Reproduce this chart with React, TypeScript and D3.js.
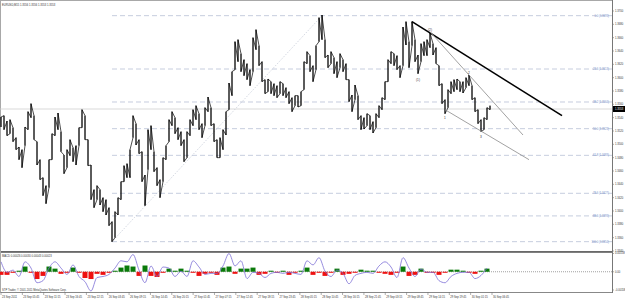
import React, { useEffect, useRef } from 'react'
import * as d3 from 'd3'

// chart header texts
const title = 'EURUSD,M15  1.3556 1.3556 1.3553 1.3553'
const macdTitle = 'MACD 0.00026 0.00030 0.00043 0.00023'
const copyright = 'STP Trader, \u00a9 2001-2011 MetaQuotes Software Corp.'

// M15 bars (high / low)
const highs = [
    1.3541, 1.3543, 1.3535, 1.3537, 1.3525, 1.3510, 1.3496, 1.3492, 1.3526, 1.3549,
    1.3561, 1.3543, 1.3504, 1.3477, 1.3450, 1.3438, 1.3477, 1.3516, 1.3541, 1.3547,
    1.3519, 1.3484, 1.3492, 1.3507, 1.3495, 1.3498, 1.3525, 1.3552, 1.3543, 1.3507,
    1.3469, 1.3432, 1.3438, 1.3432, 1.3420, 1.3417, 1.3405, 1.3384, 1.3399, 1.3420,
    1.3444, 1.3468, 1.3471, 1.3492, 1.3543, 1.3531, 1.3507, 1.3489, 1.3454, 1.3522,
    1.3528, 1.3489, 1.3465, 1.3447, 1.3480, 1.3498, 1.3537, 1.3549, 1.3540, 1.3525,
    1.3519, 1.3507, 1.3519, 1.3537, 1.3552, 1.3558, 1.3546, 1.3531, 1.3555, 1.3571,
    1.3555, 1.3531, 1.3507, 1.3510, 1.3522, 1.3549, 1.3592, 1.3609, 1.3654, 1.3657,
    1.3636, 1.3627, 1.3621, 1.3612, 1.3660, 1.3672, 1.3648, 1.3624, 1.3597, 1.3598,
    1.3594, 1.3591, 1.3588, 1.3594, 1.3591, 1.3585, 1.3579, 1.3570, 1.3573, 1.3573,
    1.3579, 1.3624, 1.3639, 1.3633, 1.3618, 1.3648, 1.3690, 1.3694, 1.3657, 1.3634,
    1.3639, 1.3630, 1.3624, 1.3636, 1.3627, 1.3621, 1.3597, 1.3574, 1.3589, 1.3573,
    1.3543, 1.3540, 1.3546, 1.3543, 1.3534, 1.3546, 1.3558, 1.3570, 1.3594, 1.3627,
    1.3639, 1.3636, 1.3633, 1.3618, 1.3676, 1.3684, 1.3654, 1.3684, 1.3657, 1.3634,
    1.3651, 1.3654, 1.3657, 1.3667, 1.3651, 1.3645, 1.3618, 1.3591, 1.3567, 1.3582,
    1.3594, 1.3597, 1.3598, 1.3594, 1.3594, 1.3600, 1.3604, 1.3588, 1.3570, 1.3552,
    1.3537, 1.3540, 1.3555, 1.3558
]
const lows = [
    1.3526, 1.3522, 1.3513, 1.3516, 1.3504, 1.3492, 1.3477, 1.3465, 1.3498, 1.3522,
    1.3540, 1.3507, 1.3469, 1.3447, 1.3423, 1.3411, 1.3435, 1.3477, 1.3513, 1.3522,
    1.3489, 1.3456, 1.3465, 1.3483, 1.3474, 1.3469, 1.3498, 1.3525, 1.3507, 1.3468,
    1.3417, 1.3405, 1.3417, 1.3409, 1.3399, 1.3394, 1.3378, 1.3354, 1.3360, 1.3394,
    1.3417, 1.3444, 1.3450, 1.3450, 1.3510, 1.3499, 1.3486, 1.3444, 1.3408, 1.3462,
    1.3492, 1.3459, 1.3438, 1.3420, 1.3444, 1.3477, 1.3504, 1.3528, 1.3516, 1.3507,
    1.3498, 1.3474, 1.3480, 1.3513, 1.3528, 1.3537, 1.3522, 1.3510, 1.3528, 1.3549,
    1.3528, 1.3504, 1.3480, 1.3480, 1.3492, 1.3514, 1.3552, 1.3573, 1.3612, 1.3624,
    1.3609, 1.3603, 1.3597, 1.3588, 1.3609, 1.3642, 1.3618, 1.3594, 1.3576, 1.3579,
    1.3576, 1.3573, 1.3570, 1.3576, 1.3573, 1.3570, 1.3561, 1.3549, 1.3558, 1.3556,
    1.3558, 1.3582, 1.3621, 1.3609, 1.3594, 1.3612, 1.3654, 1.3657, 1.3630, 1.3615,
    1.3621, 1.3606, 1.3600, 1.3615, 1.3609, 1.3597, 1.3564, 1.3549, 1.3567, 1.3537,
    1.3522, 1.3523, 1.3528, 1.3522, 1.3517, 1.3525, 1.3540, 1.3552, 1.3567, 1.3594,
    1.3621, 1.3618, 1.3612, 1.3600, 1.3618, 1.3649, 1.3615, 1.3648, 1.3624, 1.3606,
    1.3624, 1.3633, 1.3633, 1.3645, 1.3634, 1.3621, 1.3588, 1.3561, 1.3546, 1.3555,
    1.3576, 1.3579, 1.3582, 1.3579, 1.3577, 1.3585, 1.3588, 1.3567, 1.3549, 1.3531,
    1.3519, 1.3522, 1.3537, 1.3552
]
const lastPrice = 1.3553

const timeLabels = [
    '23 Sep 2011', '23 Sep 05:45', '23 Sep 11:15', '23 Sep 16:45', '23 Sep 22:15', '26 Sep 03:45',
    '26 Sep 09:15', '26 Sep 14:45', '26 Sep 20:15', '27 Sep 01:45', '27 Sep 07:15', '27 Sep 12:45',
    '27 Sep 18:15', '27 Sep 23:45', '28 Sep 05:15', '28 Sep 10:45', '28 Sep 16:15', '28 Sep 21:45',
    '29 Sep 03:15', '29 Sep 08:45', '29 Sep 14:15', '29 Sep 19:45', '30 Sep 01:15', '30 Sep 06:45'
]
const priceTicks = [
    1.3700, 1.3680, 1.3660, 1.3640, 1.3620, 1.3600, 1.3580, 1.3560, 1.3540, 1.3520,
    1.3500, 1.3480, 1.3460, 1.3440, 1.3420, 1.3400, 1.3380, 1.3360, 1.3340
]

// fibonacci retracement
const fibLevels = [0, 23.6, 38.2, 50, 61.8, 78.6, 88.6, 100]
const fibBars = [37, 107]
const fibPrices = [1.3354, 1.3693]

// trend lines (bar index, price)
const thickBars = [137, 187]
const thickPrices = [1.3684, 1.3543]
const upperBars = [143, 174]
const upperPrices = [1.3669, 1.3514]
const lowerBars = [148, 176]
const lowerPrices = [1.3552, 1.3477]

// wave labels
const waveNames = ['(1)', '(2)', '1', '2', '3']
const waveBars = [139, 143, 148, 156, 160]
const wavePrices = [1.3596, 1.3672, 1.3540, 1.3607, 1.3511]

// MACD, one value every two bars
const macdHist = [
    -0.00027, -0.00027, -0.00009, 0.00009, 0.00045, -0.00009, -0.00063, -0.00036, 0.00045, 0.00027,
    -0.00018, -0.00009, 0.00036, -0.00009, -0.00054, -0.00063, -0.00018, -0.00027, -0.00009, 0.00009,
    0.00036, 0.00054, 0.00045, -0.00036, 0.00054, -0.00036, -0.00045, -0.00009, 0.00027, 0.00009,
    0.00027, 0.00009, -0.00009, -0.00036, -0.00018, -0.00009, -0.00027, 0.00036, 0.00045, -0.00018,
    0.00027, 0.00027, 0.00036, -0.00027, -0.00018, 0.00009, -0.00009, 0.00009, -0.00027, -0.00009,
    0.00009, 0.00036, -0.00027, -0.00009, -0.00036, -0.00009, 0.00027, -0.00027, -0.00018, -0.00009,
    0.00018, 0.00009, 0.00009, -0.00009, -0.00018, -0.00027, -0.00009, 0.00045, -0.00036, -0.00027,
    0.00027, -0.00009, -0.00009, -0.00027, -0.00009, 0.00018, 0.00018, 0.00009, -0.00009, -0.00018,
    0.00009, 0.00027
]
const macdLine = [
    0.00086, -0.00005, 0.00014, -0.00041, 0.00086, 0.00032, -0.00095, -0.00077, 0.00032, 0.00086,
    0.00032, -0.00023, 0.00059, -0.00041, -0.00086, -0.00167, -0.00050, -0.00041, -0.00023, 0.00032,
    0.00095, 0.00086, 0.00149, 0.00014, -0.00095, 0.00050, -0.00041, 0.00041, 0.00032, -0.00041,
    0.00005, -0.00041, 0.00095, 0.00041, -0.00023, -0.00014, -0.00014, 0.00050, 0.00158, 0.00050,
    0.00095, -0.00059, -0.00005, -0.00014, -0.00050, -0.00014, -0.00005, -0.00014, -0.00005, -0.00014,
    -0.00023, 0.00095, 0.00059, 0.00122, 0.00005, -0.00041, 0.00014, -0.00014, -0.00104, -0.00032,
    -0.00014, -0.00005, -0.00014, 0.00050, 0.00086, 0.00041, -0.00050, 0.00122, 0.00032, -0.00041,
    0.00023, -0.00005, -0.00005, -0.00077, -0.00095, -0.00041, -0.00014, -0.00005, -0.00005, -0.00059,
    -0.00032, 0.00032
]
const macdTicks = [0.00158, 0, -0.00158]

function App() {
    const svgRef = useRef()

    useEffect(() => {
        const width = 625
        const height = 300
        const right = 612
        const mainTop = 1
        const mainBottom = 251
        const macdBottom = 292
        const font = 'Liberation Sans, Arial, sans-serif'
        const fs = 2.7

        const svg = d3.select(svgRef.current)
        svg.selectAll('*').remove()
        svg.attr('width', width).attr('height', height)
            .style('position', 'absolute').style('left', 0).style('top', 0)
            .style('background', '#fff')

        const x = d3.scaleLinear().domain([0, highs.length - 1]).range([1, 490])
        const y = d3.scaleLinear().domain([1.3340, 1.3700]).range([251, 11])
        const xt = d3.scaleLinear().domain([0, timeLabels.length - 1]).range([1, 492])
        const ym = d3.scaleLinear().domain([-0.00158, 0.00158]).range([290, 253.5])
        const xm = j => x(j * 2)

        svg.append('defs').append('clipPath').attr('id', 'mainclip')
            .append('rect').attr('x', 0).attr('y', mainTop).attr('width', right).attr('height', mainBottom - mainTop)

        // frames
        svg.append('rect').attr('x', 0.5).attr('y', 0.5).attr('width', right).attr('height', mainBottom)
            .attr('fill', 'none').attr('stroke', '#a8a8a8')
        svg.append('line').attr('x1', 0).attr('x2', right).attr('y1', 252).attr('y2', 252)
            .attr('stroke', '#555').attr('stroke-width', 1.5)
        svg.append('line').attr('x1', 0).attr('x2', right).attr('y1', macdBottom + 0.5).attr('y2', macdBottom + 0.5)
            .attr('stroke', '#888')
        svg.append('line').attr('x1', right + 0.5).attr('x2', right + 0.5).attr('y1', 0).attr('y2', macdBottom + 1)
            .attr('stroke', '#777')
        svg.append('line').attr('x1', 0.5).attr('x2', 0.5).attr('y1', 0).attr('y2', macdBottom + 1)
            .attr('stroke', '#a8a8a8')

        const main = svg.append('g').attr('clip-path', 'url(#mainclip)')

        // current price line
        main.append('line').attr('x1', 0).attr('x2', right).attr('y1', y(lastPrice)).attr('y2', y(lastPrice))
            .attr('stroke', '#cfcfcf').attr('stroke-width', 0.8)

        // fibonacci
        const fibRange = fibPrices[1] - fibPrices[0]
        const fibG = main.append('g')
        fibLevels.forEach(lv => {
            const p = fibPrices[1] - fibRange * lv / 100
            fibG.append('line').attr('x1', x(fibBars[0])).attr('x2', right)
                .attr('y1', y(p)).attr('y2', y(p))
                .attr('stroke', '#b7c0d6').attr('stroke-width', 0.8).attr('stroke-dasharray', '5,3')
            fibG.append('text').attr('x', 609).attr('y', y(p)).attr('dy', '0.35em')
                .attr('text-anchor', 'end').attr('font-family', font).attr('font-size', fs)
                .attr('fill', '#6f8cc8')
                .text(`${lv.toFixed(1)} (${p.toFixed(4)})`)
        })
        main.append('line')
            .attr('x1', x(fibBars[0])).attr('y1', y(fibPrices[0]))
            .attr('x2', x(fibBars[1])).attr('y2', y(fibPrices[1]))
            .attr('stroke', '#b0b8c8').attr('stroke-width', 0.7).attr('stroke-dasharray', '1,1.5')

        // bars: each bar walked top-to-bottom or bottom-to-top so neighbours join up
        const pts = []
        highs.forEach((h, i) => {
            const mid = (h + lows[i]) / 2
            const prevMid = i > 0 ? (highs[i - 1] + lows[i - 1]) / 2 : mid
            const down = mid < prevMid
            pts.push([x(i), y(down ? h : lows[i])])
            pts.push([x(i), y(down ? lows[i] : h)])
        })
        main.append('path')
            .attr('d', d3.line()(pts))
            .attr('fill', 'none').attr('stroke', '#000').attr('stroke-width', 0.7)
        main.selectAll('.bar')
            .data(highs)
            .join('line')
            .attr('class', 'bar')
            .attr('x1', (d, i) => x(i)).attr('x2', (d, i) => x(i))
            .attr('y1', d => y(d)).attr('y2', (d, i) => y(lows[i]))
            .attr('stroke', '#000').attr('stroke-width', 0.9)

        // trend lines
        const trend = (bars, prices, color, w) => main.append('line')
            .attr('x1', x(bars[0])).attr('y1', y(prices[0]))
            .attr('x2', x(bars[1])).attr('y2', y(prices[1]))
            .attr('stroke', color).attr('stroke-width', w)
        trend(thickBars, thickPrices, '#000', 1.6)
        trend(upperBars, upperPrices, '#8a8a8a', 0.8)
        trend(lowerBars, lowerPrices, '#8a8a8a', 0.8)

        main.selectAll('.wave')
            .data(waveNames)
            .join('text')
            .attr('class', 'wave')
            .attr('x', (d, i) => x(waveBars[i])).attr('y', (d, i) => y(wavePrices[i]))
            .attr('dy', '0.35em').attr('text-anchor', 'middle')
            .attr('font-family', font).attr('font-size', 3.2).attr('fill', '#333')
            .text(d => d)

        svg.append('text').attr('x', 2).attr('y', 5.5)
            .attr('font-family', font).attr('font-size', fs).attr('fill', '#333').text(title)

        // MACD window
        svg.append('line').attr('x1', 1).attr('x2', right).attr('y1', ym(0)).attr('y2', ym(0))
            .attr('stroke', '#777').attr('stroke-width', 0.7).attr('stroke-dasharray', '1,1')
        svg.selectAll('.hist')
            .data(macdHist)
            .join('rect')
            .attr('class', 'hist')
            .attr('x', (d, j) => xm(j) - 2.5)
            .attr('width', 5)
            .attr('y', d => Math.min(ym(d), ym(0)))
            .attr('height', d => Math.abs(ym(d) - ym(0)))
            .attr('fill', d => d >= 0 ? '#0a7a0a' : '#ee1111')
        svg.append('path')
            .attr('d', d3.line().x((d, j) => xm(j)).y(d => ym(d)).curve(d3.curveMonotoneX)(macdLine))
            .attr('fill', 'none').attr('stroke', '#7c6fd6').attr('stroke-width', 0.8)

        svg.append('text').attr('x', 2).attr('y', 257)
            .attr('font-family', font).attr('font-size', fs).attr('fill', '#333').text(macdTitle)
        svg.append('text').attr('x', 2).attr('y', 291)
            .attr('font-family', font).attr('font-size', fs).attr('fill', '#333').text(copyright)

        // price axis
        const axisG = svg.append('g')
        priceTicks.forEach(t => {
            axisG.append('line').attr('x1', right).attr('x2', right + 2).attr('y1', y(t)).attr('y2', y(t))
                .attr('stroke', '#777').attr('stroke-width', 0.6)
            axisG.append('text').attr('x', right + 3).attr('y', y(t)).attr('dy', '0.35em')
                .attr('font-family', font).attr('font-size', fs).attr('fill', '#333').text(t.toFixed(4))
        })
        axisG.append('rect').attr('x', right + 1).attr('y', y(lastPrice) - 3).attr('width', 12).attr('height', 6)
            .attr('fill', '#000')
        axisG.append('text').attr('x', right + 3).attr('y', y(lastPrice)).attr('dy', '0.35em')
            .attr('font-family', font).attr('font-size', fs).attr('fill', '#fff').text(lastPrice.toFixed(4))

        macdTicks.forEach(t => {
            axisG.append('line').attr('x1', right).attr('x2', right + 2).attr('y1', ym(t)).attr('y2', ym(t))
                .attr('stroke', '#777').attr('stroke-width', 0.6)
            axisG.append('text').attr('x', right + 3).attr('y', ym(t)).attr('dy', '0.35em')
                .attr('font-family', font).attr('font-size', fs).attr('fill', '#333')
                .text(t === 0 ? '0.00' : t.toFixed(5))
        })

        // time axis
        timeLabels.forEach((s, k) => {
            axisG.append('line').attr('x1', xt(k)).attr('x2', xt(k)).attr('y1', macdBottom).attr('y2', macdBottom + 3)
                .attr('stroke', '#777').attr('stroke-width', 0.6)
            axisG.append('text').attr('x', xt(k) + 1).attr('y', 298)
                .attr('font-family', font).attr('font-size', fs).attr('fill', '#333').text(s)
        })
    }, [])

    return (
        <div className='App'>
            <svg ref={svgRef}></svg>
        </div>
    )
}

export default App
